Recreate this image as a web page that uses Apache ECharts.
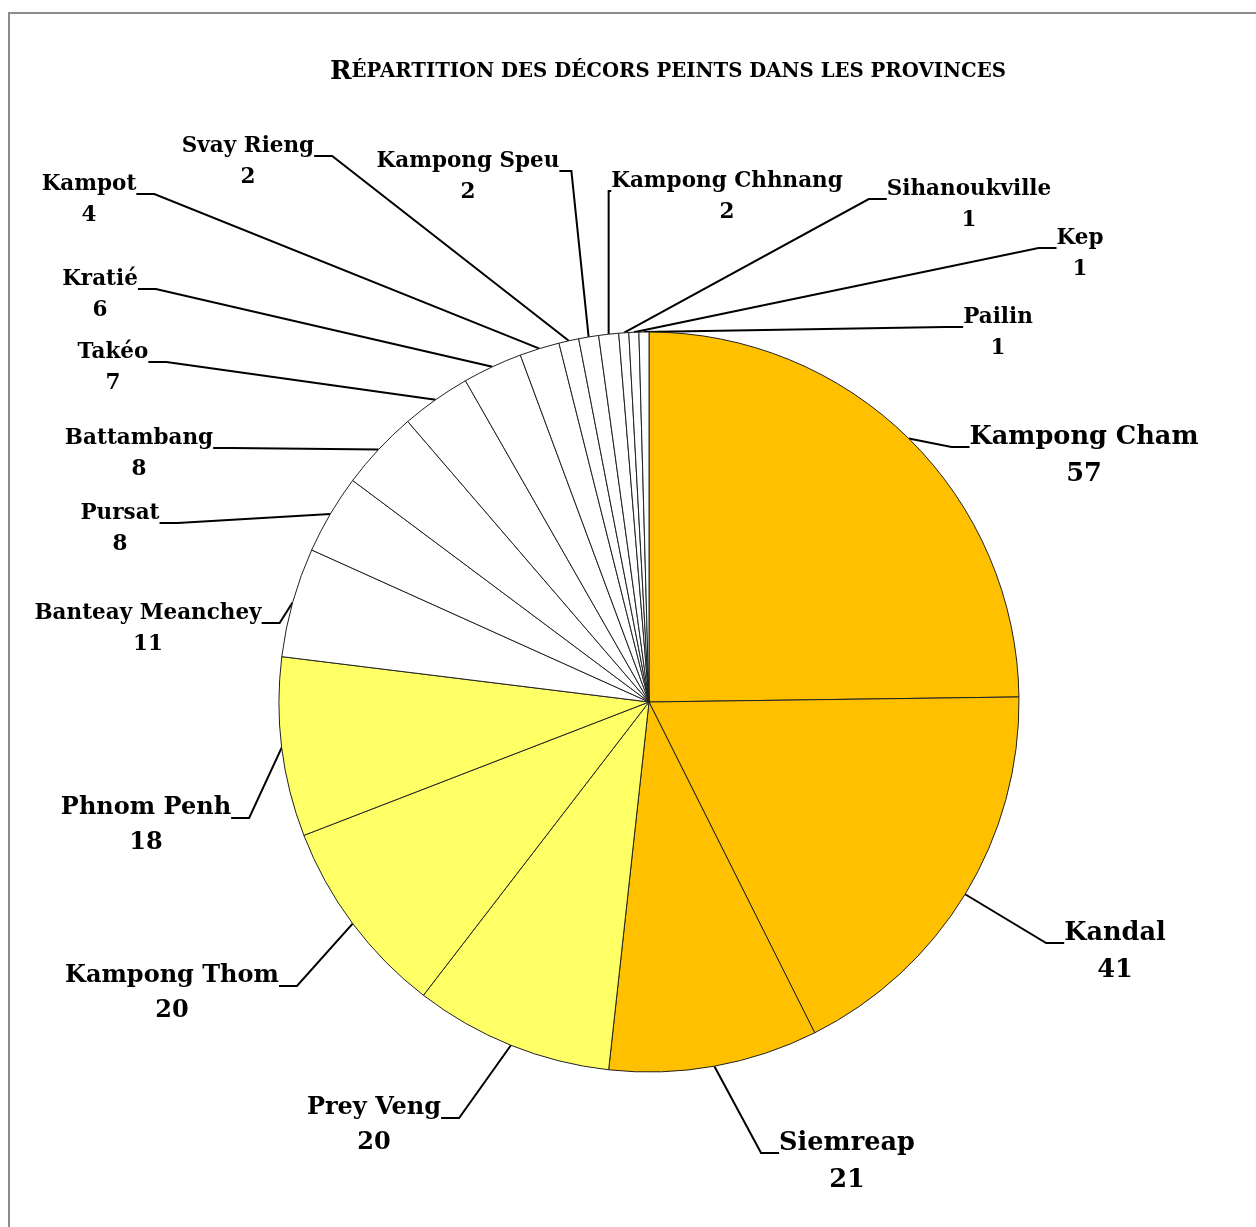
<!DOCTYPE html>
<html><head><meta charset="utf-8">
<script src="https://cdn.jsdelivr.net/npm/echarts@6/dist/echarts.min.js"></script>
<style>html,body{margin:0;padding:0;background:#fff}#c{width:1256px;height:1227px}</style>
</head><body><div id="c"></div>
<script>
// ---- data ----
const provinces = ['Kampong Cham','Kandal','Siemreap','Prey Veng','Kampong Thom','Phnom Penh','Banteay Meanchey','Pursat','Battambang','Takéo','Kratié','Kampot','Svay Rieng','Kampong Speu','Kampong Chhnang','Sihanoukville','Kep','Pailin'];
const counts = [57,41,21,20,20,18,11,8,8,7,6,4,2,2,2,1,1,1];
const titleFirst = 'R';
const titleRest = 'ÉPARTITION DES DÉCORS PEINTS DANS LES PROVINCES';

// ---- styles / layout ----
const ORANGE = '#FFC000', YELLOW = '#FFFF66', WHITE = '#FFFFFF';
const sliceColors = [ORANGE,ORANGE,ORANGE,YELLOW,YELLOW,YELLOW,WHITE,WHITE,WHITE,WHITE,WHITE,WHITE,WHITE,WHITE,WHITE,WHITE,WHITE,WHITE];
const labelSize = ['l','l','l','m','m','m','s','s','s','s','s','s','s','s','s','s','s','s'];
// centre x of label, centre y of the name line
const labelAnchors = [[1084,437],[1115,933],[847,1143],[374,1108],[172,976],[146,808],[148,613],[120,513],[139,438],[113,352],[100,279],[89,184],[248,146],[468,161],[727,181],[969,189],[1080,238],[998,317]];
const leaderTail = [18,18,18,18,18,18,18,18,18,18,18,18,18,12,18,18,18,18];
const sizes = {l:{fs:25.6,lh:37},m:{fs:24,lh:35},s:{fs:21.5,lh:31}};
const ATTACH = 10; // leader line meets the label this far below the name line centre

const FONT = 'DejaVu Serif';
const chart = echarts.init(document.getElementById('c'), null, {renderer:'canvas'});
const data = provinces.map((n,i)=>{
  const s = sizes[labelSize[i]];
  return {name:n, value:counts[i], itemStyle:{color:sliceColors[i]},
    label:{padding:[s.lh-2*ATTACH,0,0,0]}, labelLine:{length2:leaderTail[i]}};
});
const rich = {};
Object.keys(sizes).forEach(k=>{rich[k]={fontFamily:FONT,fontWeight:'bold',fontSize:sizes[k].fs,lineHeight:sizes[k].lh,color:'#000',align:'center'};});

chart.setOption({
  backgroundColor:'#fff',
  animation:false,
  title:{
    text:'{a|'+titleFirst+'}{b|'+titleRest+'}',
    left:325, top:54,
    textStyle:{
      rich:{
        a:{fontFamily:FONT,fontWeight:'bold',fontSize:26,color:'#000'},
        b:{fontFamily:FONT,fontWeight:'bold',fontSize:19.7,color:'#000'}
      }
    }
  },
  graphic:[{type:'rect',z:-1,shape:{x:9,y:13,width:1262,height:1232},style:{fill:'none',stroke:'#8c8c8c',lineWidth:2}}],
  series:[{
    type:'pie',
    center:[649,702],
    radius:370,
    startAngle:90,
    clockwise:true,
    avoidLabelOverlap:false,
    emphasis:{disabled:true},
    itemStyle:{borderColor:'#222',borderWidth:1},
    label:{
      show:true,
      position:'outside',
      backgroundColor:'rgba(255,255,255,0)',
      formatter:p=>{const k=labelSize[p.dataIndex];return '{'+k+'|'+p.name+'}\n{'+k+'|'+p.value+'}';},
      rich:rich
    },
    labelLine:{show:true,length:20,length2:18,lineStyle:{color:'#000',width:2}},
    labelLayout:p=>{const c=labelAnchors[p.dataIndex];return {x:c[0],y:c[1]+ATTACH,align:'center',verticalAlign:'middle'};},
    data:data
  }]
});
</script></body></html>
